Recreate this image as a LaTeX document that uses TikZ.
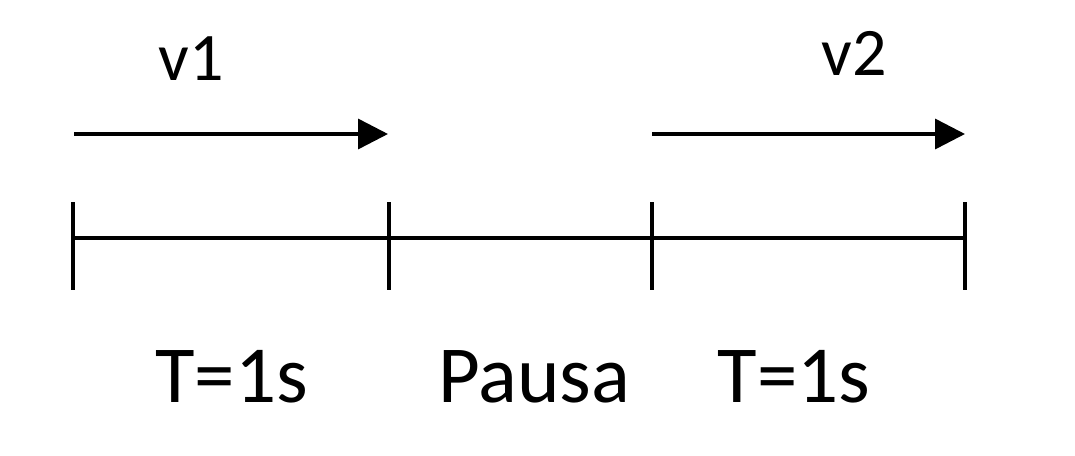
\documentclass[tikz,border=0pt]{standalone}
\usepackage{fontspec}
\setmainfont{Carlito}
\usetikzlibrary{arrows.meta}
\tikzset{
  ln/.style={line width=3.5pt,black},
  vec/.style={ln,-{Triangle[length=30pt,width=30pt]}},
  lbl/.style={anchor=base,inner sep=0pt,font=\fontsize{81}{96}\selectfont},
  vlbl/.style={anchor=base,inner sep=0pt,font=\fontsize{68}{82}\selectfont}
}
\begin{document}
\begin{tikzpicture}[x=1pt,y=-1pt]
\useasboundingbox (0,0) rectangle (1075,455);
% axis points
\coordinate (a) at (73,238);
\coordinate (b) at (389,238);
\coordinate (c) at (652,238);
\coordinate (d) at (965,238);
\draw[ln] (a) -- (d);
\foreach \p in {a,b,c,d}{
  \draw[ln] ([yshift=36pt]\p) -- ([yshift=-52pt]\p);
}
% velocity arrows
\coordinate (v1s) at (74,134);
\coordinate (v1e) at (388,134);
\coordinate (v2s) at (652,134);
\coordinate (v2e) at (965,134);
\draw[vec] (v1s) -- (v1e);
\draw[vec] (v2s) -- (v2e);
% labels
\node[vlbl] (lv1) at (191,80) {v1};
\node[vlbl] (lv2) at (854,75) {v2};
\node[lbl] (t1) at (231.5,402) {T=1s};
\node[lbl] (pa) at (534,402) {Pausa};
\node[lbl] (t2) at (794,402) {T=1s};
\end{tikzpicture}
\end{document}
